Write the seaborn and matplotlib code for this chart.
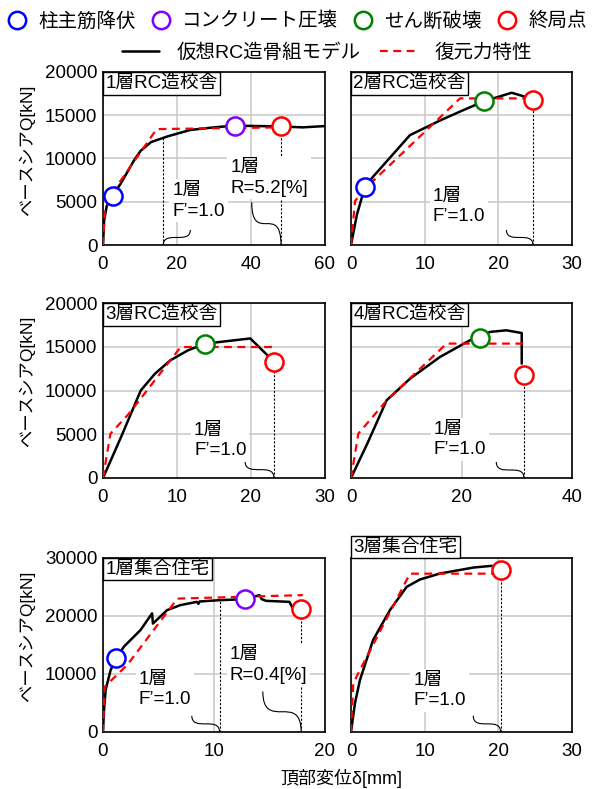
import numpy as np
import matplotlib
matplotlib.use("Agg")
import matplotlib.pyplot as plt
from matplotlib.lines import Line2D
from matplotlib.path import Path
from matplotlib.patches import PathPatch
import seaborn as sns

# ---- data ----
# 1層RC造校舎
p1_model_x = [0, 0.3, 1.0, 2.7, 4.8, 8.4, 10.2, 13, 17.4, 23.6, 30, 35.6, 42, 48.1, 54, 60]
p1_model_y = [0, 2800, 4500, 5800, 7100, 9800, 10900, 11900, 12550, 13300, 13600, 13800, 13750, 13700, 13600, 13750]
p1_skel_x = [0, 0.5, 3.4, 14.5, 48.1]
p1_skel_y = [0, 4000, 6600, 13400, 13600]
p1_pts_kind = ["yield", "crush", "ult"]
p1_pts_x = [2.7, 35.6, 48.1]
p1_pts_y = [5700, 13800, 13700]

# 2層RC造校舎
p2_model_x = [0, 0.8, 1.9, 3.0, 5.5, 8.0, 12.1, 15, 18.0, 21.8, 23.4, 24.7]
p2_model_y = [0, 3500, 6750, 7900, 10300, 12700, 14400, 15500, 16600, 17600, 17200, 16800]
p2_skel_x = [0, 0.55, 2.5, 14.8, 24.7]
p2_skel_y = [0, 5100, 7000, 16950, 16950]
p2_pts_kind = ["yield", "shear", "ult"]
p2_pts_x = [1.9, 18.0, 24.7]
p2_pts_y = [6750, 16600, 16800]

# 3層RC造校舎
p3_model_x = [0, 2.5, 5.1, 7, 9.1, 11.5, 13.8, 19.9, 23.1]
p3_model_y = [0, 4800, 10000, 11900, 13450, 14600, 15350, 15950, 13300]
p3_skel_x = [0, 1.0, 3.5, 10.5, 23.5]
p3_skel_y = [0, 5050, 7350, 14970, 14970]
p3_pts_kind = ["shear", "ult"]
p3_pts_x = [13.8, 23.1]
p3_pts_y = [15350, 13300]

# 4層RC造校舎
p4_model_x = [0, 3, 6.45, 10.7, 16.1, 21.5, 23.3, 25.1, 28.1, 30.9, 30.9]
p4_model_y = [0, 4000, 8880, 11360, 13830, 15730, 16000, 16690, 16880, 16570, 13070]
p4_skel_x = [0, 1.33, 6.5, 17.3, 31.4]
p4_skel_y = [0, 5070, 8900, 15360, 15360]
p4_pts_kind = ["shear", "ult"]
p4_pts_x = [23.3, 31.3]
p4_pts_y = [16000, 11730]

# 1層集合住宅
p5_model_x = [0, 0.1, 0.24, 0.69, 1.2, 1.88, 3.38, 4.42, 4.5, 5.77, 6.96, 8.45, 8.6, 8.7,
              10.5, 12.8, 14.1, 14.3, 14.7, 16.8, 17.1, 17.85]
p5_model_y = [0, 4000, 7270, 10700, 12710, 14710, 17580, 20450, 18700, 21010, 21870, 22440, 22100, 22500,
              22730, 22900, 23590, 22900, 22610, 22440, 21300, 21180]
p5_skel_x = [0, 0.15, 2.2, 6.7, 18.0]
p5_skel_y = [0, 7800, 11600, 23000, 23600]
p5_pts_kind = ["yield", "crush", "ult"]
p5_pts_x = [1.2, 12.8, 17.85]
p5_pts_y = [12710, 22900, 21180]

# 3層集合住宅
p6_model_x = [0, 0.54, 1.22, 3.0, 5.28, 7.55, 9.35, 12.06, 16.6, 19.1]
p6_model_y = [0, 4980, 8990, 15860, 21010, 25020, 26290, 27320, 28350, 28650]
p6_skel_x = [0, 0.31, 1.22, 8.0, 19.8]
p6_skel_y = [0, 8400, 10700, 27300, 27300]
p6_pts_kind = ["ult"]
p6_pts_x = [20.3]
p6_pts_y = [28000]

titles = ["1層RC造校舎", "2層RC造校舎", "3層RC造校舎", "4層RC造校舎", "1層集合住宅", "3層集合住宅"]
xlims = [60, 30, 30, 40, 20, 30]
ylims = [20000, 20000, 20000, 20000, 30000, 30000]
xticks = [[0, 20, 40, 60], [0, 10, 20, 30], [0, 10, 20, 30], [0, 20, 40], [0, 10, 20], [0, 10, 20, 30]]
yticks_a = [0, 5000, 10000, 15000, 20000]
yticks_b = [0, 10000, 20000, 30000]

kind_color = {"yield": "#0000ff", "crush": "#7f00ff", "shear": "#008000", "ult": "#ff0000"}
kind_label = {"yield": "柱主筋降伏", "crush": "コンクリート圧壊", "shear": "せん断破壊", "ult": "終局点"}

# annotations: dashed guide lines (x, top), texts (x, y, str), braces (start, end)
guides = [
    [(16.3, 12450), (48.1, 12650)],
    [(24.7, 15760)],
    [(23.1, 12260)],
    [(31.3, 10690)],
    [(10.5, 22700), (17.85, 19600)],
    [(20.3, 26450)],
]
notes = [
    [(18.7, 5100, "1層\nF’=1.0"), (34.4, 7750, "1層\nR=5.2[%]")],
    [(11.1, 4450, "1層\nF’=1.0")],
    [(12.3, 4300, "1層\nF’=1.0")],
    [(14.9, 4400, "1層\nF’=1.0")],
    [(3.2, 7270, "1層\nF’=1.0"), (11.4, 11560, "1層\nR=0.4[%]")],
    [(8.45, 7120, "1層\nF’=1.0")],
]
braces = [
    [((23.6, 1740), (16.3, 0)), ((40.2, 4940), (48.1, 0))],
    [((21.1, 1740), (24.7, 0))],
    [((19.2, 1910), (23.1, 0))],
    [((26.3, 1830), (31.3, 0))],
    [((8.0, 2800), (10.5, 0)), ((14.4, 6980), (17.85, 0))],
    [((16.6, 2800), (20.3, 0))],
]

panels = [
    (p1_model_x, p1_model_y, p1_skel_x, p1_skel_y, p1_pts_kind, p1_pts_x, p1_pts_y),
    (p2_model_x, p2_model_y, p2_skel_x, p2_skel_y, p2_pts_kind, p2_pts_x, p2_pts_y),
    (p3_model_x, p3_model_y, p3_skel_x, p3_skel_y, p3_pts_kind, p3_pts_x, p3_pts_y),
    (p4_model_x, p4_model_y, p4_skel_x, p4_skel_y, p4_pts_kind, p4_pts_x, p4_pts_y),
    (p5_model_x, p5_model_y, p5_skel_x, p5_skel_y, p5_pts_kind, p5_pts_x, p5_pts_y),
    (p6_model_x, p6_model_y, p6_skel_x, p6_skel_y, p6_pts_kind, p6_pts_x, p6_pts_y),
]

# ---- style ----
sns.set_theme(style="whitegrid")
plt.rcParams["font.family"] = ["Liberation Sans", "Noto Sans CJK JP"]
plt.rcParams.update({
    "axes.edgecolor": "black", "axes.linewidth": 1.2,
    "grid.color": "#c8c8c8", "grid.linewidth": 1.1,
    "text.color": "black", "xtick.color": "black", "ytick.color": "black",
    "axes.labelcolor": "black",
})

W, H = 593, 789
fig = plt.figure(figsize=(W / 100, H / 100), dpi=100)

# axes boxes in pixels: left, top, right, bottom
cols = [(103, 325), (351, 572)]
rows = [(72, 245), (303, 478), (558, 732)]


def brace(ax, p0, p3):
    # S shaped leader from the note down to the foot of the guide line
    x0, y0 = p0
    x3, y3 = p3
    verts = [(x0, y0), (x0, y3), (x3, y0), (x3, y3)]
    path = Path(verts, [Path.MOVETO, Path.CURVE4, Path.CURVE4, Path.CURVE4])
    ax.add_patch(PathPatch(path, fc="none", ec="black", lw=0.8, zorder=6))


for i, (mx, my, sx, sy, kinds, px, py) in enumerate(panels):
    r, c = divmod(i, 2)
    left, right = cols[c]
    top, bottom = rows[r]
    ax = fig.add_axes([left / W, 1 - bottom / H, (right - left) / W, (bottom - top) / H])

    sns.lineplot(x=mx, y=my, ax=ax, color="black", lw=1.8, sort=False, estimator=None, zorder=3)
    sns.lineplot(x=sx, y=sy, ax=ax, color="#ff0000", lw=1.6, ls=(0, (3.5, 2.5)),
                 sort=False, estimator=None, zorder=4)
    for k, x, y in zip(kinds, px, py):
        ax.scatter([x], [y], s=170, facecolors="white", edgecolors=kind_color[k],
                   linewidths=1.8, zorder=7)

    for gx, gtop in guides[i]:
        ax.plot([gx, gx], [0, gtop], color="black", lw=0.8, ls=(0, (2, 1.5)), zorder=2)
    for tx, ty, s in notes[i]:
        ax.text(tx, ty, s, fontsize=13.5, ha="left", va="center", linespacing=1.25, zorder=8,
                bbox=dict(boxstyle="square,pad=0.15", fc="white", ec="none"))
    for p0, p3 in braces[i]:
        brace(ax, p0, p3)

    ax.set_xlim(0, xlims[i])
    ax.set_ylim(0, ylims[i])
    ax.set_xticks(xticks[i])
    ax.set_yticks(yticks_a if ylims[i] == 20000 else yticks_b)
    ax.tick_params(length=0, labelsize=13.5)
    ax.tick_params(axis="x", pad=8)
    ax.tick_params(axis="y", pad=4)
    ax.grid(True, zorder=0)
    ax.set_axisbelow(True)
    if c == 1:
        ax.set_yticklabels([])
        ax.set_ylabel("")
    else:
        ax.set_ylabel("ベースシアQ[kN]", fontsize=12.5)
        ax.yaxis.set_label_coords(-0.305, 0.55)
    ax.set_xlabel("")

    if i == 5:
        ax.text(0.01, 1.014, titles[i], transform=ax.transAxes, ha="left", va="bottom", fontsize=13.5, zorder=9,
                bbox=dict(boxstyle="square,pad=0.13", fc="white", ec="black", lw=1))
    else:
        ax.text(0.011, 0.984, titles[i], transform=ax.transAxes, ha="left", va="top", fontsize=13.5, zorder=9,
                bbox=dict(boxstyle="square,pad=0.13", fc="white", ec="black", lw=1))

fig.text(341 / W, 1 - 778 / H, "頂部変位δ[mm]", ha="center", va="center", fontsize=13)

# legends
order = ["yield", "crush", "shear", "ult"]
h1 = [Line2D([], [], ls="none", marker="o", ms=12.5, mfc="white", mec=kind_color[k], mew=1.8) for k in order]
fig.legend(h1, [kind_label[k] for k in order], loc="center", bbox_to_anchor=(297 / W, 1 - 21 / H),
           ncol=4, frameon=False, fontsize=14, handlelength=1.0, handletextpad=0.58,
           columnspacing=0.8, borderaxespad=0, borderpad=0)
h2 = [Line2D([], [], color="black", lw=1.8), Line2D([], [], color="#ff0000", lw=1.6, ls=(0, (3.5, 2.5)))]
fig.legend(h2, ["仮想RC造骨組モデル", "復元力特性"], loc="center", bbox_to_anchor=(327 / W, 1 - 53 / H),
           ncol=2, frameon=False, fontsize=14, handlelength=1.9, handletextpad=0.88,
           columnspacing=1.03, borderaxespad=0, borderpad=0)

fig.savefig("out.png", dpi=100)
